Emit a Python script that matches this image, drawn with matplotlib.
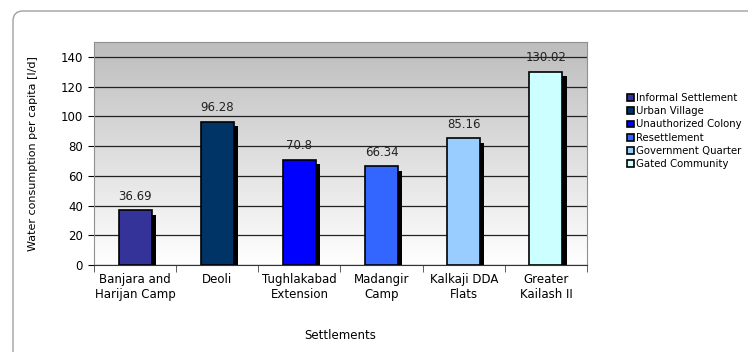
import numpy as np
import matplotlib
matplotlib.use('Agg')
from matplotlib import pyplot as plt
from matplotlib import patheffects
from matplotlib.patches import FancyBboxPatch
from matplotlib.colors import LinearSegmentedColormap

settlements = ['Banjara and\nHarijan Camp', 'Deoli', 'Tughlakabad\nExtension',
               'Madangir\nCamp', 'Kalkaji DDA\nFlats', 'Greater\nKailash II']
types = ['Informal Settlement', 'Urban Village', 'Unauthorized Colony',
         'Resettlement', 'Government Quarter', 'Gated Community']
consumption = [36.69, 96.28, 70.8, 66.34, 85.16, 130.02]
labels = ['36.69', '96.28', '70.8', '66.34', '85.16', '130.02']
colors = ['#333399', '#003366', '#0000FF', '#3366FF', '#99CCFF', '#CCFFFF']

plt.rcParams['font.family'] = 'DejaVu Sans'
plt.rcParams['font.size'] = 8

W, H = 748, 352
fig = plt.figure(figsize=(W / 100, H / 100), dpi=100)

# rounded frame (in inches, runs off the right and bottom edges)
left, top, right, bottom = 13, 11, 770, 370
frame = FancyBboxPatch((left / 100, (H - bottom) / 100),
                       (right - left) / 100, (bottom - top) / 100,
                       boxstyle='round,pad=0,rounding_size=0.1',
                       transform=fig.dpi_scale_trans, facecolor='white',
                       edgecolor='#a0a0a0', linewidth=1.0, zorder=-10)
fig.patches.append(frame)

ax = fig.add_axes([94 / W, 1 - 265 / H, (587 - 94) / W, (265 - 42) / H])
ax.set_facecolor('none')

# grey to white gradient background
grad = np.linspace(0, 1, 256).reshape(-1, 1)
ax.imshow(grad, cmap=LinearSegmentedColormap.from_list('bg', ['#bdbdbd', '#ffffff']),
          aspect='auto', extent=[-0.5, 5.5, 0, 150], origin='upper', zorder=0)

x = np.arange(len(consumption))
for xi, v, c, t in zip(x, consumption, colors, types):
    b = ax.bar(xi, v, width=0.4, color=c, edgecolor='black', linewidth=1.2,
               zorder=3, label=t)
    b[0].set_path_effects([patheffects.SimplePatchShadow(offset=(3, -3),
                                                         shadow_rgbFace='black',
                                                         alpha=1.0),
                           patheffects.Normal()])

for xi, v, s in zip(x, consumption, labels):
    ax.text(xi, v + 5, s, ha='center', va='bottom', fontsize=8.5,
            color='#222222', zorder=4)

ax.set_xlim(-0.5, 5.5)
ax.set_ylim(0, 150)
ax.set_yticks(np.arange(0, 141, 20))
ax.yaxis.grid(True, color='#222222', linewidth=0.9, zorder=1)
ax.set_axisbelow(True)

ax.set_xticks(x)
ax.set_xticklabels(settlements, fontsize=8.5)
ax.set_xticks(np.arange(-0.5, 6, 1), minor=True)
ax.tick_params(axis='x', which='major', length=0, pad=6)
ax.tick_params(axis='x', which='minor', length=5, color='#444444')
ax.tick_params(axis='y', length=4, labelsize=8.5, pad=4)

for s in ['top', 'right', 'left']:
    ax.spines[s].set_color('#909090')
ax.spines['bottom'].set_color('#333333')

ax.set_ylabel('Water consumption per capita [l/d]', fontsize=8, labelpad=16)
ax.set_xlabel('Settlements', fontsize=8.5, labelpad=20)

leg = ax.legend(loc='upper left', bbox_to_anchor=(627 / W, 1 - 93 / H),
                bbox_transform=fig.transFigure, frameon=False, fontsize=7.3,
                handlelength=0.65, handleheight=0.65, handletextpad=0.25,
                labelspacing=0.32, borderaxespad=0, borderpad=0)
for h in leg.legend_handles:
    h.set_path_effects([])
    h.set_linewidth(1.2)

fig.savefig('out.png', dpi=100)
